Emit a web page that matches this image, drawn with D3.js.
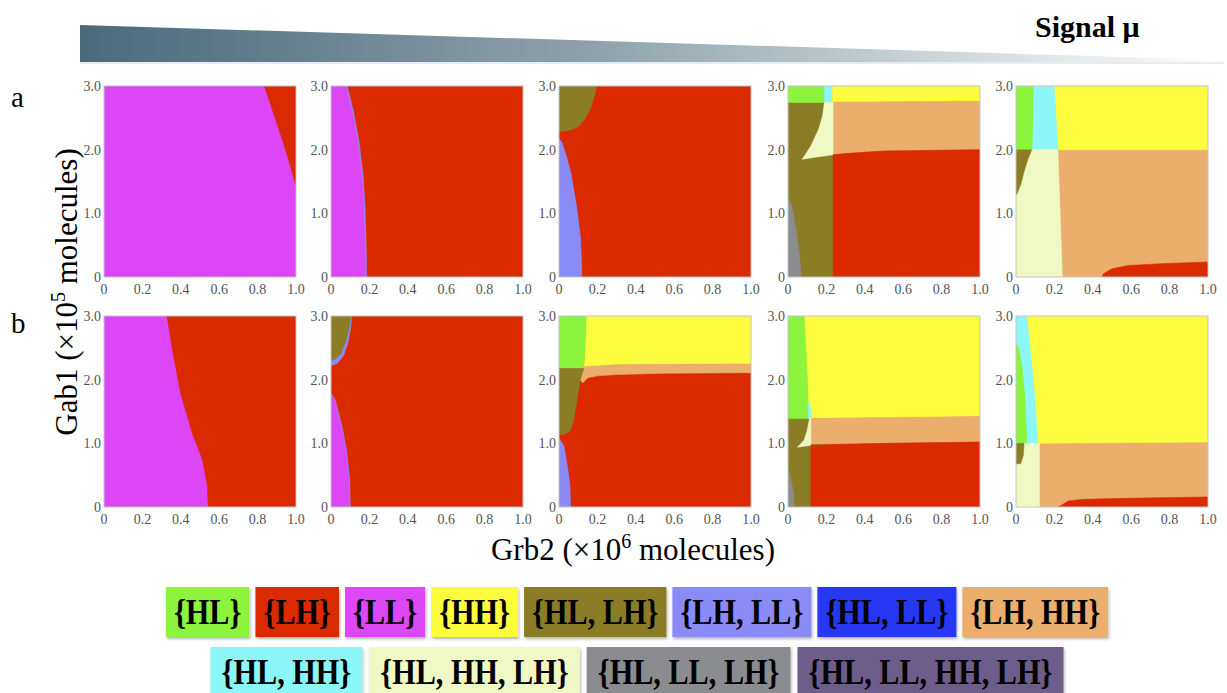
<!DOCTYPE html>
<html><head><meta charset="utf-8">
<script src="https://cdn.jsdelivr.net/npm/d3@7"></script>
<style>body{margin:0;background:#fff;} svg{display:block;}</style>
</head><body>
<svg id="chart" width="1227" height="693"></svg>
<script>
// Steady-state sets and their fill colours
const stateNames = ["HL","LH","LL","HH","HL, LH","LH, LL","HL, LL","LH, HH","HL, HH","HL, HH, LH","HL, LL, LH","HL, LL, HH, LH"];
const stateColors = ["#8cf43c","#dc2a00","#dc46f6","#fdfc3e","#8b7d26","#8a8bf6","#2539f4","#ebae6c","#8cf7f8","#f0f9c4","#8b8c90","#6c5d8b"];
const legendRow1 = ["HL","LH","LL","HH","HL, LH","LH, LL","HL, LL","LH, HH"];
const legendRow2 = ["HL, HH","HL, HH, LH","HL, LL, LH","HL, LL, HH, LH"];

// Axis ticks: Grb2 (x, ×10^6) and Gab1 (y, ×10^5)
const xTickValues = [0, 0.2, 0.4, 0.6, 0.8, 1.0];
const xTickLabels = ["0", "0.2", "0.4", "0.6", "0.8", "1.0"];
const yTickValues = [0, 1, 2, 3];
const yTickLabels = ["0", "1.0", "2.0", "3.0"];

const full = [[0,0],[1,0],[1,3],[0,3]];

// Phase regions, [state, boundary in (Grb2, Gab1) units]; later regions paint over earlier ones
const regionsA1 = [
  ["LL", full],
  ["LH", [[0.835,3],[1,3],[1,1.43],[0.97,1.75],[0.93,2.15],[0.88,2.6]]]
];
const regionsA2 = [
  ["LH", full],
  ["LH, LL", [[0,3],[0.084,3],[0.117,2.6],[0.147,2.1],[0.167,1.6],[0.177,1.1],[0.183,0.5],[0.185,0],[0,0]]],
  ["LL", [[0,3],[0.077,3],[0.11,2.6],[0.14,2.1],[0.16,1.6],[0.17,1.1],[0.176,0.5],[0.178,0],[0,0]]]
];
const regionsA3 = [
  ["LH", full],
  ["HL, LH", [[0,3],[0.196,3],[0.185,2.85],[0.165,2.65],[0.135,2.48],[0.1,2.36],[0.06,2.31],[0.02,2.29],[0,2.29]]],
  ["LH, LL", [[0,2.17],[0.015,2.12],[0.035,1.93],[0.06,1.66],[0.09,1.14],[0.112,0.62],[0.118,0.2],[0.118,0],[0,0]]]
];
const regionsA4 = [
  ["HL, LH", full],
  ["HL", [[0,3],[0.19,3],[0.19,2.74],[0,2.74]]],
  ["HL, HH", [[0.19,3],[0.232,3],[0.232,2.74],[0.19,2.74]]],
  ["HH", [[0.232,3],[1,3],[1,2.76],[0.232,2.745]]],
  ["LH, HH", [[0.235,2.745],[1,2.76],[1,2.0],[0.5,1.98],[0.3,1.94],[0.235,1.92]]],
  ["HL, HH, LH", [[0.074,1.85],[0.118,2.05],[0.16,2.32],[0.18,2.53],[0.19,2.74],[0.235,2.74],[0.235,1.92],[0.15,1.885]]],
  ["LH", [[0.235,0],[1,0],[1,2.0],[0.5,1.98],[0.3,1.94],[0.235,1.92]]],
  ["HL, LL, LH", [[0,1.21],[0.015,1.15],[0.03,0.95],[0.047,0.63],[0.06,0.32],[0.069,0],[0,0]]]
];
const regionsA5 = [
  ["LH, HH", full],
  ["HH", [[0.198,3],[1,3],[1,2.0],[0.218,2.0]]],
  ["HL", [[0,3],[0.093,3],[0.087,2.0],[0,2.0]]],
  ["HL, HH", [[0.093,3],[0.198,3],[0.218,2.0],[0.087,2.0]]],
  ["HL, HH, LH", [[0,2.0],[0.218,2.0],[0.23,1.0],[0.241,0],[0,0]]],
  ["HL, LH", [[0,2.0],[0.082,2.0],[0.061,1.84],[0.044,1.68],[0.026,1.47],[0.005,1.3],[0,1.29]]],
  ["LH", [[0.45,0],[0.455,0.05],[0.5,0.13],[0.586,0.18],[0.76,0.21],[1,0.237],[1,0]]]
];
const regionsB1 = [
  ["LL", full],
  ["LH", [[0.328,3],[1,3],[1,0],[0.543,0],[0.538,0.34],[0.512,0.75],[0.46,1.16],[0.4,1.78],[0.357,2.46]]]
];
const regionsB2 = [
  ["LH", full],
  ["LH, LL", [[0,3],[0.108,3],[0.103,2.82],[0.088,2.58],[0.065,2.38],[0.035,2.26],[0,2.22]]],
  ["HL, LH", [[0,3],[0.104,3],[0.095,2.82],[0.078,2.61],[0.052,2.41],[0.026,2.33],[0,2.3]]],
  ["LH, LL", [[0,1.79],[0.022,1.68],[0.057,1.27],[0.083,0.85],[0.097,0.44],[0.1,0],[0,0]]],
  ["LL", [[0,1.76],[0.017,1.68],[0.052,1.27],[0.078,0.85],[0.092,0.44],[0.095,0],[0,0]]]
];
const regionsB3 = [
  ["LH", full],
  ["HH", [[0.142,3],[1,3],[1,2.245],[0.3,2.235],[0.13,2.2],[0.129,2.175]]],
  ["HL", [[0,3],[0.142,3],[0.137,2.6],[0.129,2.175],[0,2.175]]],
  ["LH, HH", [[0.12,2.2],[0.3,2.235],[1,2.245],[1,2.11],[0.54,2.1],[0.3,2.08],[0.2,2.06],[0.15,2.03],[0.125,1.95],[0.11,2.0]]],
  ["HL, LH", [[0,2.175],[0.129,2.175],[0.11,1.995],[0.094,1.69],[0.077,1.38],[0.06,1.2],[0.026,1.14],[0,1.14]]],
  ["LH, LL", [[0,1.08],[0.026,0.96],[0.043,0.65],[0.057,0.35],[0.06,0],[0,0]]]
];
const regionsB4 = [
  ["HL, LH", full],
  ["HH", [[0.08,3],[1,3],[1,1.42],[0.11,1.39]]],
  ["HL", [[0,3],[0.084,3],[0.102,1.97],[0.107,1.39],[0,1.39]]],
  ["HL, HH", [[0.104,1.65],[0.119,1.55],[0.12,1.39],[0.107,1.39]]],
  ["LH, HH", [[0.119,1.39],[1,1.42],[1,1.02],[0.5,1.0],[0.119,0.99]]],
  ["HL, HH, LH", [[0.049,0.94],[0.084,1.05],[0.1,1.2],[0.11,1.36],[0.112,1.39],[0.119,1.39],[0.119,0.97]]],
  ["LH", [[0.119,0],[1,0],[1,1.02],[0.5,1.0],[0.119,0.97]]],
  ["HL, LL, LH", [[0,0.6],[0.014,0.44],[0.028,0.23],[0.032,0],[0,0]]]
];
const regionsB5 = [
  ["LH, HH", full],
  ["HH", [[0.056,3],[1,3],[1,1.02],[0.113,1.0]]],
  ["HL, HH", [[0,3],[0.056,3],[0.082,2.23],[0.099,1.7],[0.113,1.0],[0.056,1.0],[0.047,1.7],[0.03,2.23],[0.012,2.52],[0,2.55]]],
  ["HL", [[0,2.55],[0.012,2.52],[0.03,2.23],[0.047,1.7],[0.056,1.0],[0,1.0]]],
  ["HL, HH, LH", [[0,1.0],[0.122,1.0],[0.122,0],[0,0]]],
  ["HL, LH", [[0,1.0],[0.042,1.0],[0.038,0.81],[0.024,0.68],[0,0.68]]],
  ["LH", [[0.22,0],[0.23,0.016],[0.273,0.095],[0.35,0.12],[0.58,0.137],[1,0.158],[1,0]]]
];

const panelRows = [
  [regionsA1, regionsA2, regionsA3, regionsA4, regionsA5],
  [regionsB1, regionsB2, regionsB3, regionsB4, regionsB5]
];

// ---- layout ----
const colX = [104, 331, 559, 788, 1016];
const rowY = [86, 316];
const pw = 192, ph = 191;
const serif = "'Liberation Serif', 'DejaVu Serif', serif";

const svg = d3.select("#chart");
const defs = svg.append("defs");
const colorOf = d3.scaleOrdinal(stateNames, stateColors);

// Signal wedge at the top
const grad = defs.append("linearGradient").attr("id", "wedge").attr("x1", "0%").attr("x2", "100%");
grad.append("stop").attr("offset", "0%").attr("stop-color", "#4a6a7a");
grad.append("stop").attr("offset", "45%").attr("stop-color", "#8fa2ab");
grad.append("stop").attr("offset", "80%").attr("stop-color", "#d6dee2");
grad.append("stop").attr("offset", "100%").attr("stop-color", "#ffffff");
svg.append("path").attr("d", "M80,63 L1224,63").attr("stroke", "#e2e6e8").attr("stroke-width", 1.5);
svg.append("path").attr("d", "M80,25 L1224,60 L1224,62 L80,62 Z").attr("fill", "url(#wedge)");
svg.append("text").attr("x", 1035).attr("y", 37).attr("font-family", serif).attr("font-weight", "bold")
  .attr("font-size", 30).attr("fill", "#000").text("Signal μ");

// Row letters
svg.append("text").attr("x", 11).attr("y", 107).attr("font-family", serif).attr("font-size", 29).text("a");
svg.append("text").attr("x", 11).attr("y", 333).attr("font-family", serif).attr("font-size", 29).text("b");

const x = d3.scaleLinear().domain([0, 1]).range([0, pw]);
const y = d3.scaleLinear().domain([0, 3]).range([ph, 0]);
const area = d3.line().x(d => x(d[0])).y(d => y(d[1])).curve(d3.curveLinearClosed);

panelRows.forEach((row, ri) => {
  row.forEach((regions, ci) => {
    const id = `clip-${ri}-${ci}`;
    defs.append("clipPath").attr("id", id).append("rect").attr("width", pw).attr("height", ph);
    const g = svg.append("g").attr("transform", `translate(${colX[ci]},${rowY[ri]})`);
    g.append("g").attr("clip-path", `url(#${id})`)
      .selectAll("path").data(regions).join("path")
      .attr("d", d => area(d[1]))
      .attr("fill", d => colorOf(d[0]))
      .attr("stroke", d => colorOf(d[0])).attr("stroke-width", 0.6);
    g.append("rect").attr("width", pw).attr("height", ph)
      .attr("fill", "none").attr("stroke", "#c4c4c4").attr("stroke-width", 1);

    g.selectAll(".xt").data(xTickValues).join("text")
      .attr("x", d => x(d)).attr("y", ph + 17)
      .attr("text-anchor", "middle").attr("font-family", serif).attr("font-size", 14).attr("fill", "#555")
      .text((d, i) => xTickLabels[i]);
    g.selectAll(".yt").data(yTickValues).join("text")
      .attr("x", -3).attr("y", d => y(d)).attr("dy", "0.35em")
      .attr("text-anchor", "end").attr("font-family", serif).attr("font-size", 14).attr("fill", "#555")
      .text((d, i) => yTickLabels[i]);
  });
});

// Axis titles
const yTitle = svg.append("text").attr("transform", "translate(77,292) rotate(-90)")
  .attr("text-anchor", "middle").attr("font-family", serif).attr("font-size", 31).attr("fill", "#000");
yTitle.append("tspan").text("Gab1 (×10");
yTitle.append("tspan").attr("font-size", 20).attr("dy", -12).text("5");
yTitle.append("tspan").attr("dy", 12).text(" molecules)");

const xTitle = svg.append("text").attr("x", 633).attr("y", 560)
  .attr("text-anchor", "middle").attr("font-family", serif).attr("font-size", 31).attr("fill", "#000");
xTitle.append("tspan").text("Grb2 (×10");
xTitle.append("tspan").attr("font-size", 20).attr("dy", -12).text("6");
xTitle.append("tspan").attr("dy", 12).text(" molecules)");

// Legend: condensed bold labels on shadowed colour tiles
const shadow = defs.append("filter").attr("id", "shadow").attr("x", "-10%").attr("y", "-10%").attr("width", "130%").attr("height", "140%");
shadow.append("feDropShadow").attr("dx", 1).attr("dy", 2).attr("stdDeviation", 1.5).attr("flood-color", "#000").attr("flood-opacity", 0.3);

const squeeze = 0.84;
function legendRow(names, top, pad, gap, centerX) {
  const g = svg.append("g");
  const items = names.map(n => {
    const t = g.append("text").attr("font-family", serif).attr("font-weight", "bold")
      .attr("font-size", 36).attr("text-anchor", "middle").attr("fill", "#000").text(`{${n}}`);
    const w = t.node().getComputedTextLength() * squeeze;
    return { n, t, w: w + pad };
  });
  const total = d3.sum(items, d => d.w) + gap * (items.length - 1);
  let cx = centerX - total / 2;
  items.forEach(it => {
    g.insert("rect", "text").attr("x", cx).attr("y", top).attr("width", it.w).attr("height", 50)
      .attr("fill", colorOf(it.n)).attr("filter", "url(#shadow)");
    it.t.attr("transform", `translate(${cx + it.w / 2},${top + 37}) scale(${squeeze},1)`);
    cx += it.w + gap;
  });
}
legendRow(legendRow1, 587, 16, 6, 637);
legendRow(legendRow2, 647, 22, 7, 637);
</script>
</body></html>
